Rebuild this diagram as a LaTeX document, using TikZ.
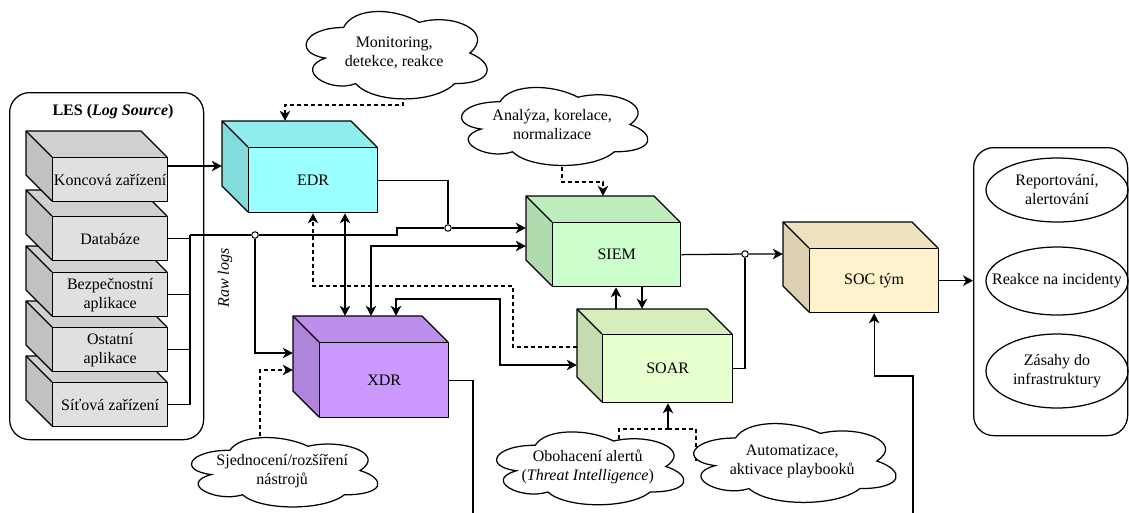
\documentclass[tikz,border=0pt]{standalone}
\usepackage{fontspec}
\setmainfont{Liberation Serif}
\usetikzlibrary{arrows.meta,shapes.geometric,fit,calc}

\pgfdeclarelayer{behind}
\pgfsetlayers{behind,main}

\definecolor{edrc}{HTML}{99FFFF}
\definecolor{xdrc}{HTML}{CC99FF}
\definecolor{siemc}{HTML}{CCFFCC}
\definecolor{soarc}{HTML}{E6FFCC}
\definecolor{socc}{HTML}{FFF2CC}
\definecolor{srcc}{HTML}{E0E0E0}

\tikzset{
  every node/.style={font=\fontsize{16}{19}\selectfont},
  cubefront/.style={draw, line width=1.3pt, inner sep=0pt, align=center, anchor=north west},
  cubeline/.style={line width=1.3pt, line join=round},
  wire/.style={line width=1.25pt},
  tip/.tip={Stealth[length=10pt,width=10.5pt,inset=3pt]},
  arr/.style={wire, -tip},
  arr2/.style={wire, tip-tip},
  dline/.style={wire, dash pattern=on 4pt off 3pt},
  darr/.style={arr, dash pattern=on 4pt off 3pt},
  junction/.style={circle, draw, fill=white, inner sep=0pt, minimum size=6.5pt, line width=1pt},
  cloudline/.style={draw, fill=white, line width=1.25pt},
  notetext/.style={anchor=north west, inner sep=0pt, align=center},
  ovalbox/.style={ellipse, draw, line width=1.25pt, inner sep=0pt},
  groupbox/.style={draw, rounded corners=20pt, line width=1.25pt, anchor=north west, inner sep=0pt},
}

% #1 name, #2 x, #3 y of the front face's top-left corner, #4 width, #5 height,
% #6 depth, #7 colour, #8 text
\newcommand{\cubebox}[8]{%
  \fill[#7!93!black] (#2-#6,#3-#6) -- (#2+#4-#6,#3-#6) -- (#2+#4,#3) -- (#2,#3) -- cycle;
  \fill[#7!86!black] (#2-#6,#3-#6) -- (#2,#3) -- (#2,#3+#5) -- (#2-#6,#3+#5-#6) -- cycle;
  \draw[cubeline] (#2,#3+#5) -- (#2-#6,#3+#5-#6) -- (#2-#6,#3-#6) -- (#2+#4-#6,#3-#6) -- (#2+#4,#3);
  \draw[cubeline] (#2-#6,#3-#6) -- (#2,#3);
  \node[cubefront, fill=#7, minimum width=#4, minimum height=#5] (#1) at (#2,#3) {#8};
  \node[fit={(#2-#6,#3-#6) (#2+#4,#3+#5)}, inner sep=0pt] (#1-box) {};
}

% cloud-shaped note: #1 name, #2 x, #3 y of the top-left corner, #4 width, #5 height, #6 text
\newcommand{\cloudnote}[6]{%
  \begin{scope}[shift={(#2,#3)}, x=#4pt, y=-#5pt]
    \path[cloudline] (0.25,0.25) .. controls (0.05,0.25) and (0,0.5) .. (0.16,0.55)
      .. controls (0,0.66) and (0.18,0.9) .. (0.31,0.8)
      .. controls (0.4,1) and (0.7,1) .. (0.8,0.8)
      .. controls (1,0.8) and (1,0.6) .. (0.875,0.5)
      .. controls (1,0.3) and (0.8,0.1) .. (0.625,0.2)
      .. controls (0.5,0.05) and (0.3,0.05) .. (0.25,0.25) -- cycle;
  \end{scope}
  \node[notetext, minimum width=#4, minimum height=#5] (#1) at (#2,#3) {#6};
}

\begin{document}
\begin{tikzpicture}[x=1pt,y=-1pt]
\useasboundingbox (0,0) rectangle (1129,512);

% log sources
\node[groupbox, minimum width=194, minimum height=347] (les) at (9,92) {};
\node[font=\fontsize{16}{19}\selectfont\bfseries] (lestitle) at (113,112) {LES (\textit{Log Source})};
\cubebox{sit}{52}{382}{115}{44}{26}{srcc}{Síťová zařízení}
\cubebox{ost}{52}{327}{115}{44}{26}{srcc}{Ostatní\\aplikace}
\cubebox{bez}{52}{272}{115}{44}{26}{srcc}{Bezpečnostní\\aplikace}
\cubebox{dat}{52}{216}{115}{44}{26}{srcc}{Databáze}
\cubebox{kon}{52}{157}{115}{44}{26}{srcc}{Koncová zařízení}

% security tools
\cubebox{edr}{248}{147}{129}{65}{26}{edrc}{EDR}
\cubebox{xdr}{319}{342}{129}{75}{26}{xdrc}{XDR}
\cubebox{siem}{552}{222}{128}{64}{26}{siemc}{SIEM}
\cubebox{soar}{602}{334}{130}{68}{25}{soarc}{SOAR}
\cubebox{soc}{809}{248}{129}{64}{26}{socc}{SOC tým}

% outcomes
\node[groupbox, minimum width=154, minimum height=288] (acts) at (973,147) {};
\node[ovalbox, minimum width=142, minimum height=64,
      label={[align=center]center:{Reportování,\\alertování}}] (rep) at (1057,190) {};
\node[ovalbox, minimum width=142, minimum height=68,
      label={center:Reakce na incidenty}] (inc) at (1057,281) {};
\node[ovalbox, minimum width=142, minimum height=74,
      label={[align=center]center:{Zásahy do\\infrastruktury}}] (inf) at (1057,371) {};

% notes
\cloudnote{cl1}{293}{2}{202}{102}{Monitoring,\\detekce, reakce}
\cloudnote{cl2}{448}{79}{208}{91}{Analýza, korelace,\\normalizace}
\cloudnote{cl3}{178}{430}{208}{81}{Sjednocení/rozšíření\\nástrojů}
\cloudnote{cl4}{483}{424}{209}{85}{Obohacení alertů\\(\textit{Threat Intelligence})}
\cloudnote{cl5}{679}{415}{226}{92}{Automatizace,\\aktivace playbooků}

% junctions and loose ends
\coordinate (bus) at (190,235);
\node[junction] (j0) at (255,235) {};
\node[junction] (j1) at (448,228) {};
\node[junction] (j2) at (745,254) {};
\coordinate (j3) at (668,429);
\coordinate (xdrout) at (473,514);
\coordinate (socin) at (913,514);

% raw logs
\draw[arr] (kon.east |- 0,166) -- (edr-box.west |- 0,166);
\draw[wire] (dat.east) -| (bus);
\draw[wire] (bez.east) -| (bus);
\draw[wire] (ost.east) -| (bus);
\draw[wire] (sit.east) -| (bus);
\draw[arr] (bus) -- (j0) -- (397,235) -- (397,228) -- (j1) -- (siem-box.west |- j1);
\draw[arr] (j0) |- (xdr-box.west |- 0,353);
\node[rotate=90, font=\fontsize{16}{19}\selectfont\itshape] (rawlbl) at (225,278) {Raw logs};

% tool links
\draw[wire] (edr.east) -| (j1);
\draw[arr2] (edr.south -| 345,0) -- (xdr-box.north -| 345,0);
\draw[arr2] (xdr-box.north -| 371,0) |- (siem-box.west |- 0,246);
\draw[arr2] (xdr-box.north -| 396,0) |- (500,299) |- (soar-box.west |- 0,365);
\draw[darr] (soar-box.west |- 0,347) -| (513,286) -| (edr.south -| 313,0);
\draw[arr] (soar-box.north -| 616,0) -- (siem.south -| 616,0);
\draw[arr] (siem.south -| 642,0) -- (soar-box.north -| 642,0);
\draw[arr] (siem.east) -- (j2) -- (soc-box.west |- j2);
\draw[wire] (soar.east) -| (j2);
\draw[arr] (soc.east) -- (acts.west |- soc.east);
\draw[wire] (xdr.east) -| (xdrout);
\draw[arr] (socin) |- (soc.south |- 0,376) -- (soc.south);

% notes to tools, started inside the clouds and laid behind them
\begin{pgfonlayer}{behind}
\draw[darr] (cl1.center -| 403,0) |- (285,105) -- (edr-box.north -| 285,0);
\draw[darr] (cl2.center -| 562,0) |- (603,182) -- (siem-box.north -| 603,0);
\draw[darr] (cl3.center -| 260,0) |- (xdr-box.west |- 0,370);
\draw[dline] (cl4.center -| 619,0) |- (j3);
\draw[dline] (cl5.center -| 696,0) |- (j3);
\end{pgfonlayer}
\draw[arr] (j3) -- (soar.south -| j3);
\end{tikzpicture}
\end{document}
